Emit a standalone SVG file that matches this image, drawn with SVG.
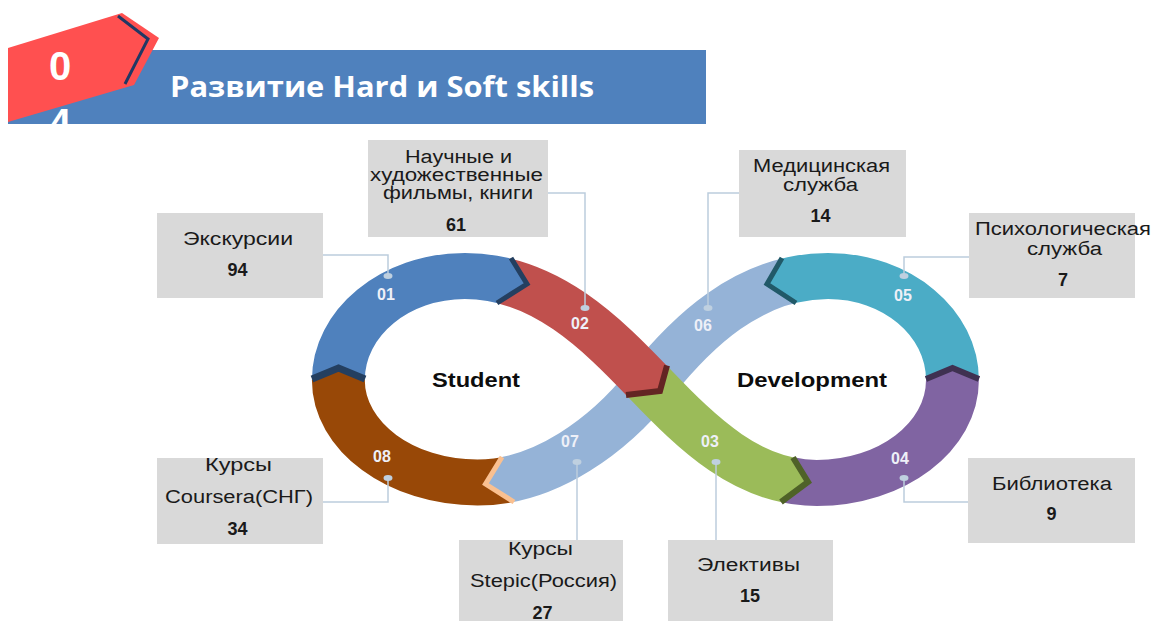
<svg xmlns="http://www.w3.org/2000/svg" xmlns:xlink="http://www.w3.org/1999/xlink" width="1154" height="621" viewBox="0 0 1154 621">
<style>
.band{fill:none;stroke-width:46;stroke-linecap:butt}
.chev{fill:none;stroke-linejoin:miter;stroke-linecap:butt}
.box{fill:#D9D9D9}
.bt{font-family:"Liberation Sans",Arial,sans-serif;font-size:18px;fill:#1a1a1a;text-anchor:middle}
.bn{font-family:"Liberation Sans",Arial,sans-serif;font-size:18px;font-weight:bold;fill:#1a1a1a;text-anchor:middle}
.lbl{font-family:"Liberation Sans",Arial,sans-serif;font-size:16px;font-weight:bold;fill:#EEF0F8;text-anchor:middle}
.ctr{font-family:"Liberation Sans",Arial,sans-serif;font-size:21px;font-weight:bold;fill:#0d0d0d;text-anchor:middle}
.con{fill:none;stroke:#BCCDDD;stroke-width:1.5}
.dot{fill:#BFD0E0}
</style>
<defs>
<path id="full" d="M379,380 C379,322.6 428.3,276 489,276 C559,276 608.3,334 650,384 C691.7,434 735,483 795,483 C860.1,483 913,436.9 913,380 C913,322.6 864.5,276 804.8,276 C734.8,276 684.8,334 650,384 C615.2,434 560,482.5 500,482.5 C433.2,482.5 379,436.6 379,380 Z"/>
<path id="s1" d="M489,276 C559,276 608.3,334 650,384 C691.7,434 735,483 795,483"/>
<path id="s2" d="M804.8,276 C734.8,276 684.8,334 650,384 C615.2,434 560,482.5 500,482.5"/>
<clipPath id="r01"><polygon points="280,385.5 299,385.5 312,380 338.5,369 365,380 378,385.5 482,312.5 497,303 527,284 511,258 503,245 503,230 280,230"/></clipPath>
<clipPath id="r02"><polygon points="503,245 511,258 527,284 497,303 482,312.5 609,397 626,395 660,391 667,365.5 670.5,352.7 700,230 503,230"/></clipPath>
<clipPath id="r03"><polygon points="609,397 626,395 660,391 667,365.5 670.5,352.7 760,352 785.5,445 793,457.5 808,482 781,502 767.5,512 600,520"/></clipPath>
<clipPath id="r04"><polygon points="767.5,512 781,502 808,482 793,457.5 785.5,445 912.7,384.5 926,379 952.5,368 979,379 992,384.5 1010,384.5 1010,530 767.5,530"/></clipPath>
<clipPath id="r05"><polygon points="1010,384.5 992,384.5 979,379 952.5,368 926,379 912.7,384.5 810.5,312.5 796,303 767,284 782,258 789.5,245 789.5,230 1010,230"/></clipPath>
<clipPath id="r67"><polygon points="789.5,245 782,258 767,284 796,303 810.5,312.5 810,530 528,530 528,511 514,502 485.5,484 502,457 510,443.5 620,245"/></clipPath>
<clipPath id="r08"><polygon points="528,511 514,502 485.5,484 502,457 510,443.5 378,385.5 365,380 338.5,369 312,380 299,385.5 280,385.5 280,530 528,530"/></clipPath>
<clipPath id="hdr"><rect x="0" y="0" width="1154" height="124"/></clipPath>
</defs>

<g id="header">
<rect x="8" y="50" width="698" height="74" fill="#4F81BD"/>
<polygon points="8,48 122,13 159,38 134,85 8,122" fill="#FF5050"/>
<polyline points="118,16 148,39 125,84" fill="none" stroke="#203864" stroke-width="3"/>
<g clip-path="url(#hdr)">
<text x="60" y="80" font-family="'Liberation Sans',Arial,sans-serif" font-size="40" font-weight="bold" fill="#FFFFFF" text-anchor="middle">0</text>
<text x="60" y="137" font-family="'Liberation Sans',Arial,sans-serif" font-size="40" font-weight="bold" fill="#FFFFFF" text-anchor="middle">4</text>
</g>
<text x="170" y="97" font-family="'Open Sans','Liberation Sans',sans-serif" font-size="28" font-weight="bold" fill="#FFFFFF" textLength="424" lengthAdjust="spacingAndGlyphs">Развитие Hard и Soft skills</text>
</g>

<g id="infinity">
<g id="seg-01" clip-path="url(#r01)"><use xlink:href="#full" class="band" stroke="#4F81BD" transform="matrix(1.15,0,0,1,-97.5,0)"/></g>
<g id="seg-08" clip-path="url(#r08)"><use xlink:href="#full" class="band" stroke="#984807" transform="matrix(1.15,0,0,1,-97.5,0)"/></g>
<g id="seg-04" clip-path="url(#r04)"><use xlink:href="#full" class="band" stroke="#8064A2" transform="matrix(1.15,0,0,1,-97.5,0)"/></g>
<g id="seg-05" clip-path="url(#r05)"><use xlink:href="#full" class="band" stroke="#4BACC6" transform="matrix(1.15,0,0,1,-97.5,0)"/></g>
<g id="seg-06-07" clip-path="url(#r67)"><use xlink:href="#s2" class="band" stroke="#95B3D7" transform="matrix(1.15,0,0,1,-97.5,0)"/></g>
<g id="seg-02" clip-path="url(#r02)"><use xlink:href="#s1" class="band" stroke="#C0504D" transform="matrix(1.15,0,0,1,-97.5,0)"/></g>
<g id="seg-03" clip-path="url(#r03)"><use xlink:href="#s1" class="band" stroke="#9BBB59" transform="matrix(1.15,0,0,1,-97.5,0)"/></g>
<g id="chevrons">
<polyline class="chev" points="312,379 338.5,368 365,379" stroke="#243F60" stroke-width="7"/>
<polyline class="chev" points="511,258 527,284 497,303" stroke="#243F60" stroke-width="5"/>
<polyline class="chev" points="667,365.5 660,391 626,395" stroke="#632523" stroke-width="6"/>
<polyline class="chev" points="793,457.5 808,482 781,502" stroke="#4F6228" stroke-width="6"/>
<polyline class="chev" points="926,379 952.5,368 979,379" stroke="#3F3151" stroke-width="6"/>
<polyline class="chev" points="782,258 767,284 796,303" stroke="#215968" stroke-width="5"/>
<polyline class="chev" points="502,457 485.5,484 514,502" stroke="#FAC090" stroke-width="5"/>
</g>
<text class="ctr" x="476" y="387" textLength="88" lengthAdjust="spacingAndGlyphs">Student</text>
<text class="ctr" x="812" y="387" textLength="150" lengthAdjust="spacingAndGlyphs">Development</text>
</g>

<g id="connectors">
<polyline class="con" points="323,255 388,255 388,274"/>
<polyline class="con" points="548,193 585,193 585,306"/>
<polyline class="con" points="716,464 716,540"/>
<polyline class="con" points="904,480 904,502 968,502"/>
<polyline class="con" points="969,257 904,257 904,274"/>
<polyline class="con" points="739,193 708,193 708,306"/>
<polyline class="con" points="577,464 577,540"/>
<polyline class="con" points="388,480 388,502 323,502"/>
<ellipse class="dot" cx="388" cy="276" rx="4.5" ry="3"/>
<ellipse class="dot" cx="585" cy="308" rx="4.5" ry="3"/>
<ellipse class="dot" cx="716" cy="462" rx="4.5" ry="3"/>
<ellipse class="dot" cx="904" cy="478" rx="4.5" ry="3"/>
<ellipse class="dot" cx="904" cy="276" rx="4.5" ry="3"/>
<ellipse class="dot" cx="708" cy="308" rx="4.5" ry="3"/>
<ellipse class="dot" cx="577" cy="462" rx="4.5" ry="3"/>
<ellipse class="dot" cx="388" cy="478" rx="4.5" ry="3"/>
</g>

<g id="seg-labels">
<text class="lbl" x="386" y="300">01</text>
<text class="lbl" x="580" y="329">02</text>
<text class="lbl" x="710" y="447">03</text>
<text class="lbl" x="900" y="464">04</text>
<text class="lbl" x="903" y="301">05</text>
<text class="lbl" x="703" y="331">06</text>
<text class="lbl" x="570" y="447">07</text>
<text class="lbl" x="382" y="462">08</text>
</g>

<g id="box-01">
<rect class="box" x="157" y="213" width="166" height="85"/>
<text class="bt" x="238" y="245" textLength="110" lengthAdjust="spacingAndGlyphs">Экскурсии</text>
<text class="bn" x="237.5" y="276">94</text>
</g>
<g id="box-02">
<rect class="box" x="368" y="140" width="180" height="97"/>
<text class="bt" x="458.5" y="163" textLength="107" lengthAdjust="spacingAndGlyphs">Научные и</text>
<text class="bt" x="456.5" y="181" textLength="173" lengthAdjust="spacingAndGlyphs">художественные</text>
<text class="bt" x="458" y="199" textLength="150" lengthAdjust="spacingAndGlyphs">фильмы, книги</text>
<text class="bn" x="456" y="231">61</text>
</g>
<g id="box-03">
<rect class="box" x="668" y="540" width="165" height="81"/>
<text class="bt" x="748.5" y="571" textLength="103" lengthAdjust="spacingAndGlyphs">Элективы</text>
<text class="bn" x="750" y="602">15</text>
</g>
<g id="box-04">
<rect class="box" x="968" y="458" width="167" height="85"/>
<text class="bt" x="1052" y="490" textLength="120" lengthAdjust="spacingAndGlyphs">Библиотека</text>
<text class="bn" x="1051.5" y="520">9</text>
</g>
<g id="box-05">
<rect class="box" x="969" y="213" width="166" height="85"/>
<text class="bt" x="1063" y="235" textLength="176" lengthAdjust="spacingAndGlyphs">Психологическая</text>
<text class="bt" x="1064.5" y="255" textLength="75" lengthAdjust="spacingAndGlyphs">служба</text>
<text class="bn" x="1063" y="286">7</text>
</g>
<g id="box-06">
<rect class="box" x="739" y="150" width="167" height="87"/>
<text class="bt" x="821.5" y="172" textLength="137" lengthAdjust="spacingAndGlyphs">Медицинская</text>
<text class="bt" x="820.5" y="191" textLength="75" lengthAdjust="spacingAndGlyphs">служба</text>
<text class="bn" x="820.5" y="222">14</text>
</g>
<g id="box-07">
<rect class="box" x="459" y="540" width="164" height="81"/>
<text class="bt" x="540.5" y="555" textLength="65" lengthAdjust="spacingAndGlyphs">Курсы</text>
<text class="bt" x="543.5" y="587" textLength="147" lengthAdjust="spacingAndGlyphs">Stepic(Россия)</text>
<text class="bn" x="542.5" y="619">27</text>
</g>
<g id="box-08">
<rect class="box" x="157" y="458" width="166" height="86"/>
<text class="bt" x="238.5" y="471" textLength="67" lengthAdjust="spacingAndGlyphs">Курсы</text>
<text class="bt" x="239" y="503" textLength="148" lengthAdjust="spacingAndGlyphs">Coursera(СНГ)</text>
<text class="bn" x="237.5" y="535">34</text>
</g>
</svg>
